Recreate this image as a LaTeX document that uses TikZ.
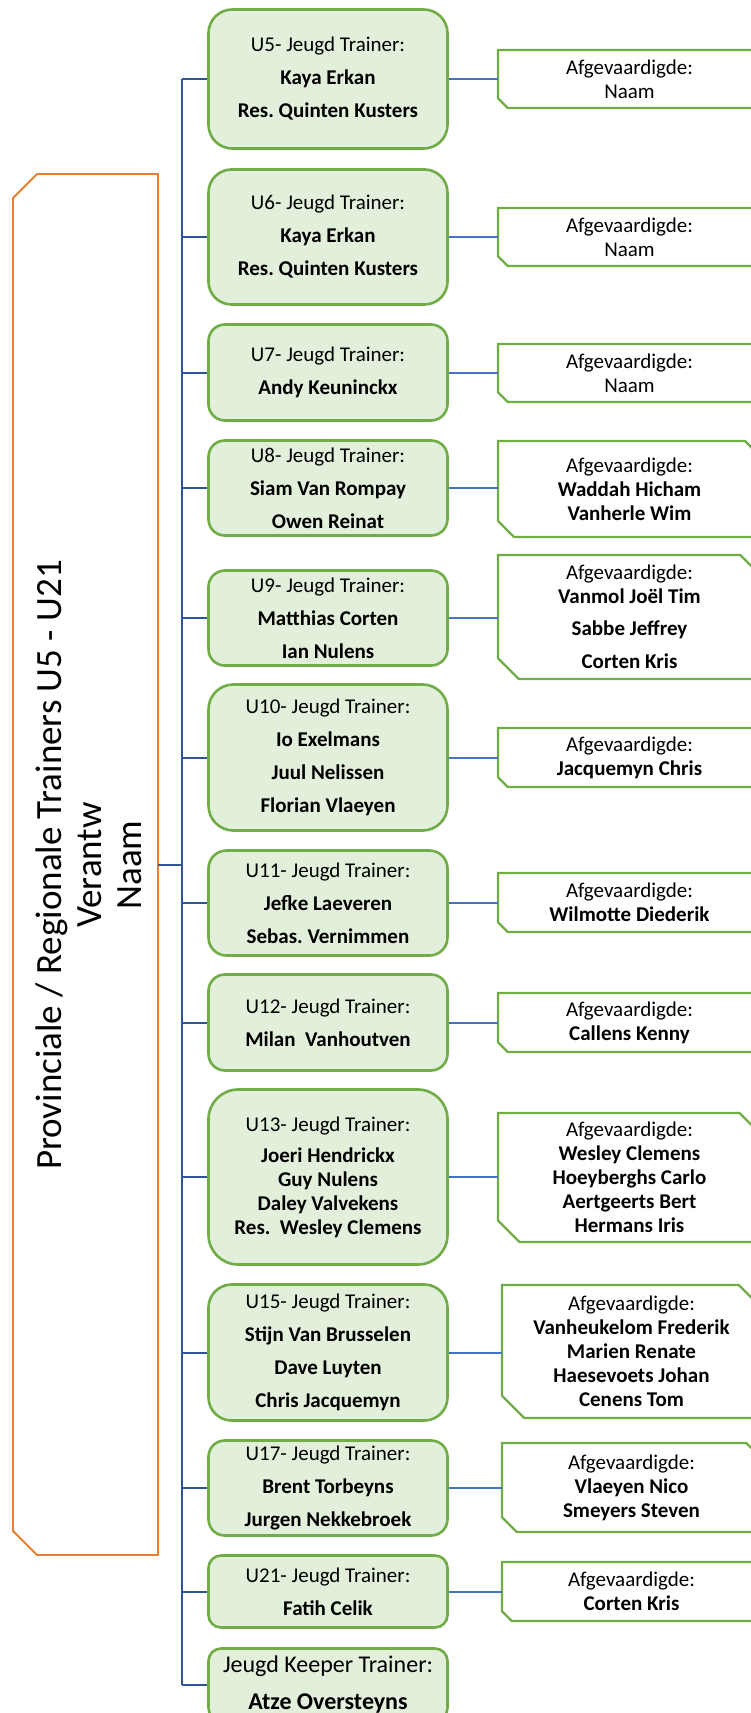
\documentclass[tikz,border=0pt]{standalone}
\usepackage{fontspec}
\setmainfont{Carlito}
\frenchspacing
\definecolor{trainergreen}{HTML}{70AD47}
\definecolor{trainerfill}{HTML}{E2EFDA}
\definecolor{stamblue}{HTML}{2F5597}
\definecolor{takblue}{HTML}{4472C4}
\definecolor{verantworange}{HTML}{ED7D31}
\tikzset{
	trainer/.style={draw=trainergreen,fill=trainerfill,line width=2.6pt,minimum width=239pt,inner sep=0pt,align=center},
	afgevaardigde/.style={inner sep=0pt,outer sep=0pt,align=center,font=\fontsize{21}{24}\selectfont},
	stam/.style={stamblue,line width=2pt},
	tak/.style={takblue,line width=2pt}
}

\begin{document}
\frenchspacing
\begin{tikzpicture}[x=1pt,y=-1pt]
			\useasboundingbox (0,0) rectangle (751,1713);
			\clip (0,0) rectangle (751,1713);
			% verantwoordelijke
			\node[minimum width=145pt,minimum height=1381pt,inner sep=0pt,outer sep=0pt] (verantw) at (85.5,864.5) {};
			\draw[verantworange,line width=1.8pt] ([yshift=-24pt]verantw.north west) -- ([xshift=24pt]verantw.north west) -- (verantw.north east) -- (verantw.south east) -- ([xshift=24pt]verantw.south west) -- ([yshift=24pt]verantw.south west) -- cycle;
			\node[rotate=90,align=center,font=\fontsize{37}{40}\selectfont] (titel) at (89,865) {Provinciale / Regionale Trainers U5 - U21\\Verantw\\Naam};
			% trainers
			\foreach \lbl/\ytop/\ybot/\fs/\lsk/\txt in {
				5/8/150/21/33/{U5- Jeugd Trainer:\\ \textbf{Kaya Erkan}\\ \textbf{Res. Quinten Kusters}},
				6/168/306/21/33/{U6- Jeugd Trainer:\\ \textbf{Kaya Erkan}\\ \textbf{Res. Quinten Kusters}},
				7/323/422/21/33/{U7- Jeugd Trainer:\\ \textbf{Andy Keuninckx}},
				8/439/537/21/33/{U8- Jeugd Trainer:\\ \textbf{Siam Van Rompay}\\ \textbf{Owen Reinat}},
				9/569/667/21/33/{U9- Jeugd Trainer:\\ \textbf{Matthias Corten}\\ \textbf{Ian Nulens}},
				10/683/832/21/33/{U10- Jeugd Trainer:\\ \textbf{Io Exelmans}\\ \textbf{Juul Nelissen}\\ \textbf{Florian Vlaeyen}},
				11/849/957/21/33/{U11- Jeugd Trainer:\\ \textbf{Jefke Laeveren}\\ \textbf{Sebas. Vernimmen}},
				12/973/1072/21/33/{U12- Jeugd Trainer:\\ \textbf{Milan~~Vanhoutven}},
				13/1088/1266/21/24/{U13- Jeugd Trainer:\\[7pt] \textbf{Joeri Hendrickx}\\ \textbf{Guy Nulens}\\ \textbf{Daley Valvekens}\\ \textbf{Res.~~Wesley Clemens}},
				15/1283/1422/21/33/{U15- Jeugd Trainer:\\ \textbf{Stijn Van Brusselen}\\ \textbf{Dave Luyten}\\ \textbf{Chris Jacquemyn}},
				17/1439/1537/21/33/{U17- Jeugd Trainer:\\ \textbf{Brent Torbeyns}\\ \textbf{Jurgen Nekkebroek}},
				21/1554/1629/21/33/{U21- Jeugd Trainer:\\ \textbf{Fatih Celik}},
				k/1647/1722/24/37/{Jeugd Keeper Trainer:\\ \textbf{Atze Oversteyns}}}{
				\pgfmathsetmacro\rad{(\ybot-\ytop)/6}
				\node[trainer,font=\fontsize{\fs}{\lsk}\selectfont,minimum height=\ybot-\ytop-3,rounded corners=\rad pt] (t\lbl) at (328,{(\ytop+\ybot)/2}) {\txt};
			}
			% afgevaardigden
			\foreach \lbl/\xa/\ytop/\ybot/\txt in {
				5/498/50/108/{Afgevaardigde:\\Naam},
				6/498/208/266/{Afgevaardigde:\\Naam},
				7/498/344/402/{Afgevaardigde:\\Naam},
				8/498/441/537/{Afgevaardigde:\\ \textbf{Waddah Hicham}\\ \textbf{Vanherle Wim}},
				9/498/555/679/{Afgevaardigde:\\ \textbf{Vanmol Joël Tim}\\[8pt] \textbf{Sabbe Jeffrey}\\[9pt] \textbf{Corten Kris}},
				10/498/728/787/{Afgevaardigde:\\ \textbf{Jacquemyn Chris}},
				11/498/873/932/{Afgevaardigde:\\ \textbf{Wilmotte Diederik}},
				12/498/993/1052/{Afgevaardigde:\\ \textbf{Callens Kenny}},
				13/498/1113/1242/{Afgevaardigde:\\ \textbf{Wesley Clemens}\\ \textbf{Hoeyberghs Carlo}\\ \textbf{Aertgeerts Bert}\\ \textbf{Hermans Iris}},
				15/502/1285/1418/{Afgevaardigde:\\ \textbf{Vanheukelom Frederik}\\ \textbf{Marien Renate}\\ \textbf{Haesevoets Johan}\\ \textbf{Cenens Tom}},
				17/502/1443/1532/{Afgevaardigde:\\ \textbf{Vlaeyen Nico}\\ \textbf{Smeyers Steven}},
				21/502/1562/1621/{Afgevaardigde:\\ \textbf{Corten Kris}}}{
				\pgfmathsetmacro\snip{(\ybot-\ytop)/6}
				\node[afgevaardigde,minimum width=761-\xa,minimum height=\ybot-\ytop] (a\lbl) at ({(\xa+761)/2},{(\ytop+\ybot)/2}) {\txt};
				\draw[trainergreen,line width=2.3pt] (a\lbl.north west) -- ([xshift=-\snip pt]a\lbl.north east) -- ([yshift=-\snip pt]a\lbl.north east) -- (a\lbl.south east) -- ([xshift=\snip pt]a\lbl.south west) -- ([yshift=\snip pt]a\lbl.south west) -- cycle;
			}
			% verbindingen
			\coordinate (stamtop) at (182,79);
			\draw[stam] (verantw.east) -- (verantw.east -| stamtop);
			\draw[stam] (stamtop |- t5.west) -- (stamtop |- tk.west);
			\foreach \lbl in {5,6,7,8,9,10,11,12,13,15,17,21,k}
				\draw[stam] (stamtop |- t\lbl.west) -- (t\lbl.west);
			\foreach \lbl in {5,6,7,8,9,10,11,12,13,15,17,21}
				\draw[tak] (t\lbl.east) -- (t\lbl.east -| a\lbl.west);
		\end{tikzpicture}
\end{document}
